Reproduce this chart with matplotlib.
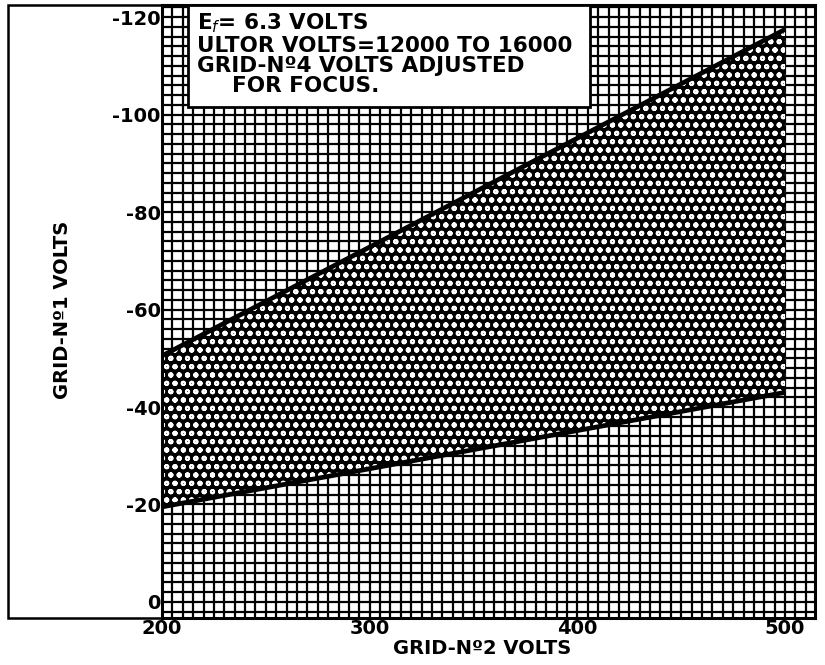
import matplotlib
matplotlib.use("Agg")
import matplotlib.pyplot as plt
from matplotlib.patches import Rectangle
import numpy as np

# boundary lines of the operating region (grid-no.2 volts vs grid-no.1 volts)
g2_volts = [200, 500]
g1_upper = [-50.5, -117.5]
g1_lower = [-19.5, -43]

x_ticks = [200, 300, 400, 500]
y_ticks = [0, -20, -40, -60, -80, -100, -120]

note_lines = [r"E$_{\mathit{f}}$= 6.3 VOLTS",
              "ULTOR VOLTS=12000 TO 16000",
              "GRID-N\u00ba4 VOLTS ADJUSTED",
              "FOR FOCUS."]

W, H = 825, 665
fig = plt.figure(figsize=(W / 100, H / 100), dpi=100)
fig.patch.set_facecolor("white")

# axes box in pixels: left 162, right 815, top 5, bottom 618
ax = fig.add_axes([162 / W, 1 - 618 / H, (815 - 162) / W, (618 - 5) / H])
ax.set_xlim(200, 514.4)
ax.set_ylim(3.3, -122.5)

# graph paper grid
for gx in np.arange(200, 515, 5):
    ax.axvline(gx, color="black", lw=1.6, zorder=1)
for gy in np.arange(2, -123, -2):
    ax.axhline(gy, color="black", lw=1.6, zorder=1)

# shaded operating region
plt.rcParams["hatch.linewidth"] = 1.4
ax.fill_between(g2_volts, g1_lower, g1_upper, facecolor="black",
                edgecolor="white", hatch="oo", lw=0, zorder=2)
ax.plot(g2_volts, g1_upper, color="black", lw=3.4, zorder=3,
        solid_capstyle="butt")
ax.plot(g2_volts, g1_lower, color="black", lw=3.4, zorder=3,
        solid_capstyle="butt")

ax.set_xticks(x_ticks)
ax.set_xticklabels([str(v) for v in x_ticks], fontsize=14,
                   fontweight="bold")
ax.set_yticks(y_ticks)
ax.set_yticklabels([str(v) for v in y_ticks], fontsize=14,
                   fontweight="bold")
ax.tick_params(length=0, pad=1)
for sp in ax.spines.values():
    sp.set_linewidth(2.2)

fig.text(482 / W, 1 - 649 / H, "GRID-N\u00ba2 VOLTS", ha="center",
         va="center", fontsize=14, fontweight="bold")
fig.text(63 / W, 1 - 310 / H, "GRID-N\u00ba1 VOLTS", ha="center",
         va="center", rotation=90, fontsize=14, fontweight="bold")

# note box
box = Rectangle((188 / W, 1 - 107 / H), (590 - 188) / W, (107 - 5) / H,
                transform=fig.transFigure, facecolor="white",
                edgecolor="black", lw=2, zorder=5)
fig.add_artist(box)
note_pos = [(197, 23), (197, 46), (197, 66), (232, 86)]
for (px, py), line in zip(note_pos, note_lines):
    fig.text(px / W, 1 - py / H, line, ha="left", va="center",
             fontsize=15.5, fontweight="bold", zorder=6)

# outer frame of the sheet
frame = Rectangle((8 / W, 1 - 618 / H), (815 - 8) / W, (618 - 5) / H,
                  transform=fig.transFigure, facecolor="none",
                  edgecolor="black", lw=1.8, zorder=4)
fig.add_artist(frame)

fig.savefig("out.png", dpi=100)
